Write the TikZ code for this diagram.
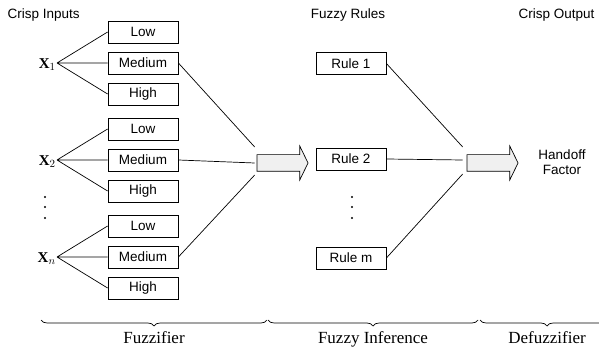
\documentclass[tikz,border=0pt]{standalone}
\usepackage{fontspec}
\setmainfont{Liberation Serif}
\newfontfamily\arialfont{Liberation Sans}
\usetikzlibrary{shapes.arrows,decorations.pathreplacing}
\definecolor{fuzzline}{HTML}{000000}
\definecolor{fuzzfill}{HTML}{F0F0F0}

\tikzset{
  every path/.style={line width=0.7pt},
  setbox/.style={draw, line width=0.8pt, minimum width=70pt, minimum height=22pt, inner sep=0pt,
    font=\arialfont\fontsize{13.5}{15}\selectfont},
  blockarrow/.style={draw, fill=fuzzfill, single arrow, inner xsep=0pt, inner ysep=8pt,
    minimum height=51pt, single arrow head extend=8.5pt, single arrow tip angle=128},
  stagebrace/.style={decorate, decoration={brace, mirror, amplitude=6pt}},
  heading/.style={font=\arialfont\fontsize{13.5}{15}\selectfont},
  stagelabel/.style={font=\fontsize{17}{19}\selectfont},
  inlabel/.style={anchor=east, inner sep=1pt, font=\fontsize{15}{17}\selectfont}
}

\begin{document}
\begin{tikzpicture}[x=1pt, y=-1pt]
\useasboundingbox (0,0) rectangle (599,352);

% headings
\node[heading, anchor=west] (tin) at (4,15) {Crisp Inputs};
\node[heading] (trules) at (348,15) {Fuzzy Rules};
\node[heading, anchor=east] (tout) at (598,15) {Crisp Output};

% membership sets
\node[setbox] (lo1) at (143,32) {Low};
\node[setbox] (me1) at (143,63) {Medium};
\node[setbox] (hi1) at (143,94) {High};
\node[setbox] (lo2) at (143,129) {Low};
\node[setbox] (me2) at (143,160) {Medium};
\node[setbox] (hi2) at (143,191) {High};
\node[setbox] (lo3) at (143,226) {Low};
\node[setbox] (me3) at (143,257) {Medium};
\node[setbox] (hi3) at (143,288) {High};

% inputs
\node[inlabel] (x1) at (57,65) {$\mathbf{X}_1$};
\node[inlabel] (x2) at (57,162) {$\mathbf{X}_2$};
\node[inlabel] (xn) at (57,259) {$\mathbf{X}_n$};

\foreach \x in {x1,x2,xn}
  \coordinate (\x f) at ([yshift=2pt]\x.east);
\draw (x1f) -- (lo1.west) (x1f) -- (me1.west) (x1f) -- (hi1.west);
\draw (x2f) -- (lo2.west) (x2f) -- (me2.west) (x2f) -- (hi2.west);
\draw (xnf) -- (lo3.west) (xnf) -- (me3.west) (xnf) -- (hi3.west);

\foreach \y in {197,207,218} {
  \fill (45,\y) circle (1.2pt);
  \fill (352,\y) circle (1.2pt);
}

% fuzzifier output
\node[blockarrow] (arr1) at (280.5,163) {};
\draw (me1.east) -- ([xshift=-2pt,yshift=16pt]arr1.west);
\draw (me2.east) -- ([xshift=-2pt]arr1.west);
\draw (me3.east) -- ([xshift=-2pt,yshift=-12pt]arr1.west);

% rules
\node[setbox] (r1) at (351,63.5) {Rule 1};
\node[setbox] (r2) at (351,159) {Rule 2};
\node[setbox] (rm) at (351,258) {Rule m};

\node[blockarrow] (arr2) at (490.5,163) {};
\draw (r1.east) -- ([xshift=-4pt,yshift=16pt]arr2.west);
\draw (r2.east) -- ([xshift=-4pt,yshift=3pt]arr2.west);
\draw (rm.east) -- ([xshift=-4pt,yshift=-11pt]arr2.west);

\node[heading, align=center] (hf) at (562,162) {Handoff\\Factor};

% stages
\draw[stagebrace] (41,320) -- (267,320) node[midway, below=8pt, stagelabel] (fz) {Fuzzifier};
\draw[stagebrace] (268,320) -- (478,320) node[midway, below=8pt, stagelabel] (fi) {Fuzzy Inference};
\draw[stagebrace] (480,320) -- (614,320);
\node[stagelabel] (df) at (547,338) {Defuzzifier};
\end{tikzpicture}
\end{document}
